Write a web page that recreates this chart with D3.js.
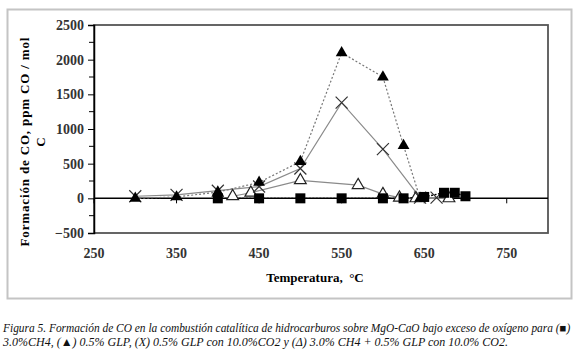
<!DOCTYPE html>
<html>
<head>
<meta charset="utf-8">
<script src="https://cdn.jsdelivr.net/npm/d3@7"></script>
<style>
  body { margin: 0; background: #fff; }
  svg { display: block; }
  svg text { font-family: "Liberation Serif", "Times New Roman", serif; }
</style>
</head>
<body>
<div id="chart"></div>
<script>
// data (temperature in °C, CO in ppm CO / mol C)
const ch4Temp = [400, 450, 500, 550, 600, 625, 650, 674, 687, 700];
const ch4Co = [0, 0, 0, 0, 0, 0, 20, 80, 80, 30];

const glpTemp = [300, 350, 400, 450, 500, 550, 600, 625, 645];
const glpCo = [0, 20, 90, 230, 530, 2100, 1750, 760, 0];

const glpCo2Temp = [300, 350, 400, 450, 500, 550, 600, 645, 665];
const glpCo2Co = [30, 50, 110, 170, 430, 1380, 710, 10, 10];

const mixTemp = [418, 440, 500, 570, 600, 620, 640, 680];
const mixCo = [30, 80, 260, 190, 60, 10, 0, 0];

const xTicks = [250, 350, 450, 550, 650, 750];
const yTicks = [-500, 0, 500, 1000, 1500, 2000, 2500];
const yMinorTicks = [-250, 250, 750, 1250, 1750, 2250];

const captionLines = [
    "Figura 5. Formación de CO en la combustión catalítica de hidrocarburos sobre MgO-CaO bajo exceso de oxígeno para (■)",
    "3.0%CH4, (▲) 0.5% GLP, (X) 0.5% GLP con 10.0%CO2 y (Δ) 3.0% CH4 + 0.5%  GLP con 10.0% CO2."
];

window.onload = function () {
    const w = 580;
    const h = 355;
    const serif = "'Liberation Serif', 'Times New Roman', serif";

    const svg = d3.select("#chart")
        .append("svg")
        .attr("width", w)
        .attr("height", h);

    // outer chart frame
    svg.append("rect")
        .attr("x", 7.5).attr("y", 9.5)
        .attr("width", 564).attr("height", 289)
        .attr("fill", "#fff")
        .attr("stroke", "#c4c4c4")
        .attr("stroke-width", 2);

    const xScale = d3.scaleLinear().domain([250, 800]).range([94, 548]);
    const yScale = d3.scaleLinear().domain([-500, 2500]).range([233, 25]);

    // plot area border
    svg.append("rect")
        .attr("x", xScale(250)).attr("y", yScale(2500))
        .attr("width", xScale(800) - xScale(250))
        .attr("height", yScale(-500) - yScale(2500))
        .attr("fill", "none")
        .attr("stroke", "#555")
        .attr("stroke-width", 1.8);

    // y axis on the left
    const yAxis = d3.axisLeft(yScale)
        .tickValues(yTicks)
        .tickSize(6)
        .tickPadding(4)
        .tickFormat(d3.format("d"));
    const gy = svg.append("g")
        .attr("transform", `translate(${xScale(250)},0)`)
        .call(yAxis)
        .attr("font-family", serif)
        .attr("font-size", 14);
    gy.select(".domain").attr("stroke", "#000").attr("stroke-width", 1.5);
    gy.selectAll("text")
        .attr("font-weight", "bold")
        .attr("fill", "#333");

    svg.append("g")
        .selectAll("line")
        .data(yMinorTicks)
        .enter()
        .append("line")
        .attr("x1", xScale(250) - 5)
        .attr("x2", xScale(250))
        .attr("y1", d => yScale(d))
        .attr("y2", d => yScale(d))
        .attr("stroke", "#000");

    // x axis crosses at zero, labels sit below the plot
    svg.append("line")
        .attr("x1", xScale(250)).attr("x2", xScale(800))
        .attr("y1", yScale(0)).attr("y2", yScale(0))
        .attr("stroke", "#000")
        .attr("stroke-width", 1.5);

    svg.append("g")
        .selectAll("line")
        .data(xTicks)
        .enter()
        .append("line")
        .attr("x1", d => xScale(d))
        .attr("x2", d => xScale(d))
        .attr("y1", yScale(0))
        .attr("y2", yScale(0) + 5)
        .attr("stroke", "#000");

    svg.append("g")
        .selectAll("text")
        .data(xTicks)
        .enter()
        .append("text")
        .text(d => d)
        .attr("x", d => xScale(d))
        .attr("y", 258)
        .attr("text-anchor", "middle")
        .attr("font-size", "14px")
        .attr("font-weight", "bold")
        .attr("fill", "#333");

    // axis titles
    svg.append("text")
        .text("Temperatura,  °C")
        .attr("x", 315)
        .attr("y", 282)
        .attr("text-anchor", "middle")
        .attr("font-size", "13px")
        .attr("font-weight", "bold")
        .style("white-space", "pre");

    const yTitle = svg.append("text")
        .attr("transform", "translate(29,142) rotate(-90)")
        .attr("text-anchor", "middle")
        .attr("font-size", "13px")
        .attr("font-weight", "bold");
    yTitle.append("tspan")
        .attr("x", 0).attr("y", 0)
        .attr("textLength", 209)
        .text("Formación  de  CO, ppm  CO / mol");
    yTitle.append("tspan")
        .attr("x", 0).attr("y", 16)
        .text("C");

    const line = d3.line()
        .x(d => xScale(d[0]))
        .y(d => yScale(d[1]));

    const ch4 = d3.zip(ch4Temp, ch4Co);
    const glp = d3.zip(glpTemp, glpCo);
    const glpCo2 = d3.zip(glpCo2Temp, glpCo2Co);
    const mix = d3.zip(mixTemp, mixCo);

    // series lines
    svg.append("path").datum(mix).attr("d", line)
        .attr("fill", "none").attr("stroke", "#8a8a8a").attr("stroke-width", 1.2);
    svg.append("path").datum(glpCo2).attr("d", line)
        .attr("fill", "none").attr("stroke", "#8a8a8a").attr("stroke-width", 1.2);
    svg.append("path").datum(glp).attr("d", line)
        .attr("fill", "none").attr("stroke", "#777").attr("stroke-width", 1.2)
        .attr("stroke-dasharray", "2,2");
    svg.append("path").datum(ch4).attr("d", line)
        .attr("fill", "none").attr("stroke", "#000").attr("stroke-width", 1.4)
        .attr("stroke-dasharray", "2,1.5");

    const tri = d3.symbol().type(d3.symbolTriangle).size(60);

    // open triangles
    svg.append("g").selectAll("path")
        .data(mix)
        .enter()
        .append("path")
        .attr("d", tri)
        .attr("transform", d => `translate(${xScale(d[0])},${yScale(d[1])})`)
        .attr("fill", "#fff")
        .attr("stroke", "#222")
        .attr("stroke-width", 1.2);

    // crosses
    svg.append("g").selectAll("path")
        .data(glpCo2)
        .enter()
        .append("path")
        .attr("d", "M-6,-6L6,6M-6,6L6,-6")
        .attr("transform", d => `translate(${xScale(d[0])},${yScale(d[1])})`)
        .attr("fill", "none")
        .attr("stroke", "#333")
        .attr("stroke-width", 1.2);

    // filled triangles
    svg.append("g").selectAll("path")
        .data(glp)
        .enter()
        .append("path")
        .attr("d", tri)
        .attr("transform", d => `translate(${xScale(d[0])},${yScale(d[1])})`)
        .attr("fill", "#000");

    // squares
    svg.append("g").selectAll("rect")
        .data(ch4)
        .enter()
        .append("rect")
        .attr("x", d => xScale(d[0]) - 5)
        .attr("y", d => yScale(d[1]) - 5)
        .attr("width", 10)
        .attr("height", 10)
        .attr("fill", "#000");

    // figure caption, font size fitted so each line takes its width
    const captionWidths = [568, 506];
    const captionY = [332, 346];
    svg.append("g")
        .attr("font-style", "italic")
        .attr("fill", "#111")
        .selectAll("text")
        .data(captionLines)
        .enter()
        .append("text")
        .attr("x", 3)
        .attr("y", (d, i) => captionY[i])
        .attr("font-size", 12)
        .text(d => d)
        .each(function (d, i) {
            const len = this.getComputedTextLength();
            const size = Math.min(12, 12 * captionWidths[i] / len);
            d3.select(this).attr("font-size", size.toFixed(2));
        });
};
</script>
</body>
</html>
